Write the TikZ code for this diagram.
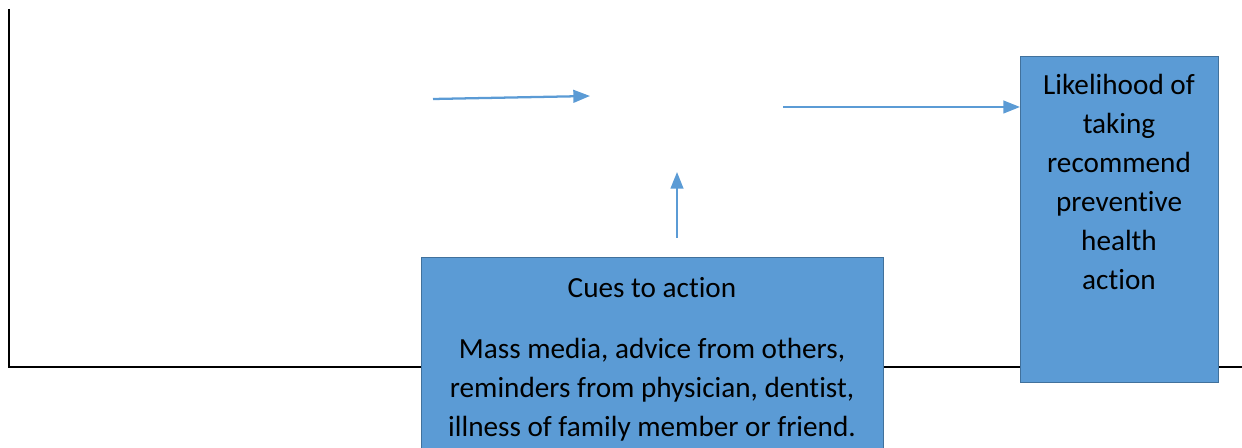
\documentclass[tikz,border=0pt]{standalone}
\usepackage{fontspec}
\setmainfont{Carlito}[Ligatures=NoCommon]
\usetikzlibrary{arrows.meta}
\definecolor{boxfill}{HTML}{5B9BD5}
\definecolor{boxline}{HTML}{41719C}
\definecolor{arrowblue}{HTML}{5B9BD5}
\begin{document}
\begin{tikzpicture}[x=0.75pt,y=-0.75pt,
  frame/.style={draw=black,line width=1.7pt},
  box/.style={draw=boxline,fill=boxfill,line width=1.1pt,inner sep=0pt},
  txt/.style={inner sep=0pt,align=center,font=\fontsize{21.9}{29.25}\selectfont},
  conn/.style={draw=arrowblue,line width=1.7pt,-{Triangle[length=12.5pt,width=9.5pt]}}]
\useasboundingbox (0,0) rectangle (1242,448);
% frame lines
\coordinate (ftop) at (9,9);
\coordinate (fcorner) at (9,367);
\coordinate (fright) at (1242,367);
\draw[frame] (ftop) -- (fcorner) -- (fright);
% boxes
\node[box,anchor=north west,minimum width=462*0.75pt,minimum height=210*0.75pt] (cues) at (421,257) {};
\node[box,anchor=north west,minimum width=198*0.75pt,minimum height=326*0.75pt] (likely) at (1020,56) {};
% texts
\node[txt,anchor=north] (cuestext) at (652,277) {Cues to action\\[16.5pt]Mass media, advice from others,\\reminders from physician, dentist,\\illness of family member or friend.};
\node[txt,anchor=north] (likelytext) at (1119,74) {Likelihood of\\taking\\recommend\\preventive\\health\\action};
% connectors
\coordinate (a1s) at (433,99);
\coordinate (a1e) at (590,96);
\coordinate (a2s) at (783,107);
\coordinate (a3s) at (677,238);
\coordinate (a3e) at (677,172);
\draw[conn] (a1s) -- (a1e);
\draw[conn] (a2s) -- (likely.west |- a2s);
\draw[conn] (a3s) -- (a3e);
\end{tikzpicture}
\end{document}
